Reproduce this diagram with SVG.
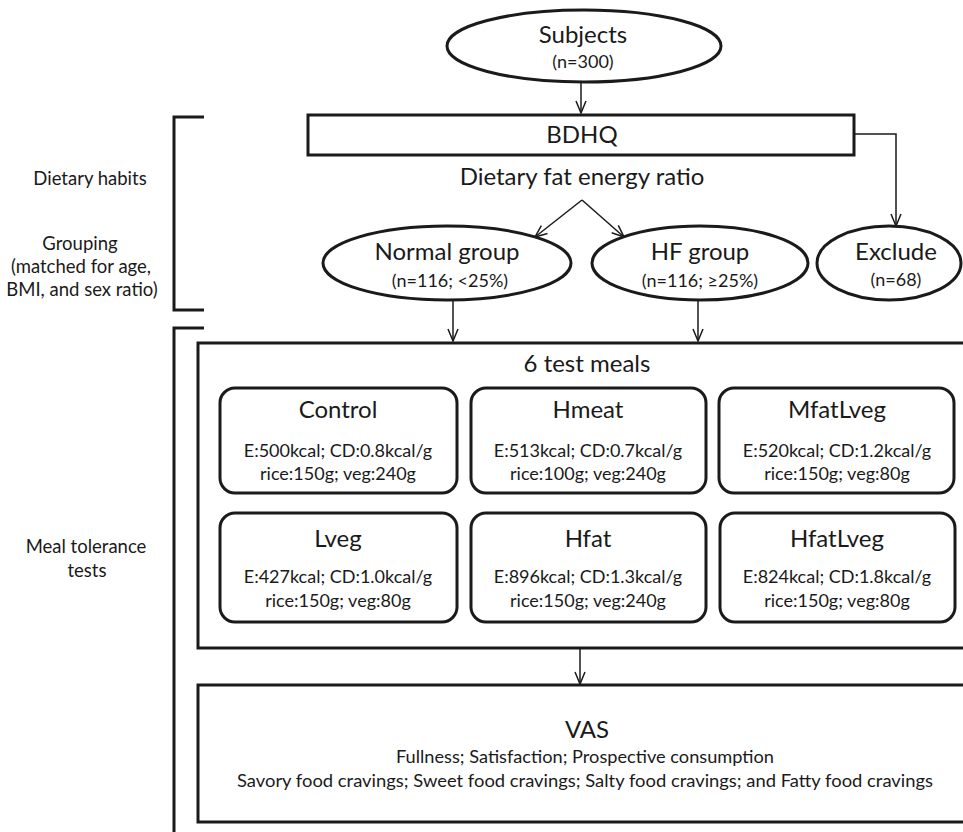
<svg xmlns="http://www.w3.org/2000/svg" width="963" height="832" viewBox="0 0 963 832">
<style>
text{font-family:Lato,"Liberation Sans",sans-serif;fill:#1a1a1a;text-anchor:middle}
.box{fill:#fff;stroke:#1a1a1a;stroke-width:3}
.brk{fill:none;stroke:#1a1a1a;stroke-width:3}
.con{fill:none;stroke:#1a1a1a;stroke-width:1.5}
.t1{font-size:24px}
.t2{font-size:18px}
.t3{font-size:17px}
.lab{font-size:18.5px}
</style>
<defs>
<marker id="ah" viewBox="0 0 14 12" refX="13" refY="6" markerWidth="14" markerHeight="12" markerUnits="userSpaceOnUse" orient="auto">
<path d="M1,1 L13,6 L1,11" fill="none" stroke="#1a1a1a" stroke-width="1.5"/>
</marker>
</defs>
<rect width="963" height="832" fill="#fff"/>

<g id="brackets">
<path class="brk" d="M204,117 H174 V310 H204"/>
<path class="brk" d="M204,328 H174 V840"/>
</g>
<g id="labels">
<text class="lab" x="90" y="185">Dietary habits</text>
<text class="lab" x="80" y="250">Grouping</text>
<text class="lab" x="81" y="273">(matched for age,</text>
<text class="lab" x="82" y="296">BMI, and sex ratio)</text>
<text class="lab" x="86" y="553">Meal tolerance</text>
<text class="lab" x="87" y="577">tests</text>
</g>

<g id="connectors">
<line class="con" x1="581" y1="82" x2="581" y2="113" marker-end="url(#ah)"/>
<polyline class="con" points="854,134 896,134 896,226" marker-end="url(#ah)"/>
<line class="con" x1="582" y1="200" x2="535" y2="237" marker-end="url(#ah)"/>
<line class="con" x1="582" y1="200" x2="624" y2="237" marker-end="url(#ah)"/>
<line class="con" x1="453" y1="300" x2="453" y2="341" marker-end="url(#ah)"/>
<line class="con" x1="698" y1="300" x2="698" y2="341" marker-end="url(#ah)"/>
<line class="con" x1="580" y1="649" x2="580" y2="684" marker-end="url(#ah)"/>
</g>

<g id="subjects">
<ellipse class="box" cx="584" cy="46" rx="137" ry="36"/>
<text class="t1" x="583" y="43">Subjects</text>
<text class="t2" x="583" y="68">(n=300)</text>
</g>
<g id="bdhq">
<rect class="box" x="308" y="115" width="546" height="40"/>
<text class="t1" x="582" y="143">BDHQ</text>
</g>
<g id="ratio">
<text class="t1" x="582" y="185">Dietary fat energy ratio</text>
</g>
<g id="normal">
<ellipse class="box" cx="447" cy="263" rx="124" ry="37"/>
<text class="t1" x="447" y="260">Normal group</text>
<text class="t2" x="450" y="287">(n=116; &lt;25%)</text>
</g>
<g id="hf">
<ellipse class="box" cx="700" cy="263" rx="108" ry="37"/>
<text class="t1" x="700" y="260">HF group</text>
<text class="t2" x="700" y="287">(n=116; ≥25%)</text>
</g>
<g id="exclude">
<ellipse class="box" cx="889" cy="263" rx="72" ry="37"/>
<text class="t1" x="896" y="260">Exclude</text>
<text class="t2" x="896" y="286">(n=68)</text>
</g>

<g id="meals">
<rect class="box" x="198" y="343" width="775" height="305"/>
<text class="t1" x="587" y="372">6 test meals</text>
</g>
<g id="control">
<rect class="box" x="220" y="388" width="237" height="105" rx="15"/>
<text class="t1" x="338" y="418">Control</text>
<text class="t2" x="338" y="457">E:500kcal; CD:0.8kcal/g</text>
<text class="t2" x="338" y="480">rice:150g; veg:240g</text>
</g>
<g id="hmeat">
<rect class="box" x="471" y="388" width="235" height="105" rx="15"/>
<text class="t1" x="588" y="418">Hmeat</text>
<text class="t2" x="588" y="457">E:513kcal; CD:0.7kcal/g</text>
<text class="t2" x="588" y="480">rice:100g; veg:240g</text>
</g>
<g id="mfatlveg">
<rect class="box" x="719" y="388" width="235" height="105" rx="15"/>
<text class="t1" x="837" y="418">MfatLveg</text>
<text class="t2" x="837" y="457">E:520kcal; CD:1.2kcal/g</text>
<text class="t2" x="837" y="480">rice:150g; veg:80g</text>
</g>
<g id="lveg">
<rect class="box" x="220" y="513" width="237" height="109" rx="15"/>
<text class="t1" x="338" y="547">Lveg</text>
<text class="t2" x="338" y="583">E:427kcal; CD:1.0kcal/g</text>
<text class="t2" x="338" y="607">rice:150g; veg:80g</text>
</g>
<g id="hfat">
<rect class="box" x="471" y="513" width="235" height="109" rx="15"/>
<text class="t1" x="588" y="547">Hfat</text>
<text class="t2" x="588" y="583">E:896kcal; CD:1.3kcal/g</text>
<text class="t2" x="588" y="607">rice:150g; veg:240g</text>
</g>
<g id="hfatlveg">
<rect class="box" x="720" y="513" width="235" height="109" rx="15"/>
<text class="t1" x="837" y="547">HfatLveg</text>
<text class="t2" x="837" y="583">E:824kcal; CD:1.8kcal/g</text>
<text class="t2" x="837" y="607">rice:150g; veg:80g</text>
</g>

<g id="vas">
<rect class="box" x="198" y="685" width="775" height="137"/>
<text class="t1" x="587" y="738">VAS</text>
<text class="t3" x="585" y="763" textLength="378" lengthAdjust="spacingAndGlyphs">Fullness; Satisfaction; Prospective consumption</text>
<text class="t3" x="585" y="787" textLength="696" lengthAdjust="spacingAndGlyphs">Savory food cravings; Sweet food cravings; Salty food cravings; and Fatty food cravings</text>
</g>
</svg>
